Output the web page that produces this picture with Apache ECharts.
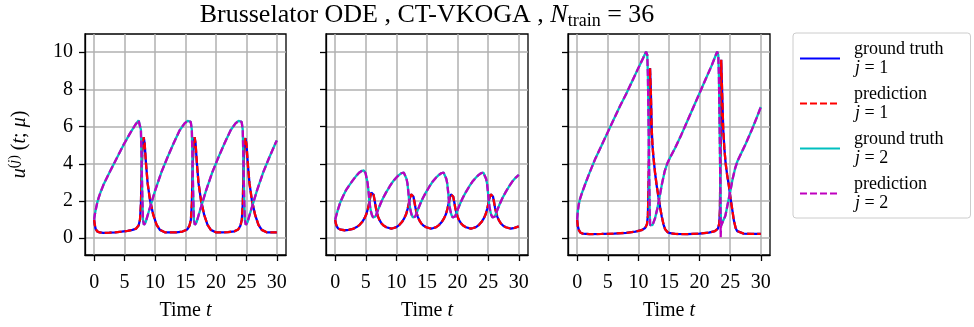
<!DOCTYPE html>
<html><head><meta charset="utf-8">
<script src="https://cdn.jsdelivr.net/npm/echarts@6/dist/echarts.min.js"></script>
<style>html,body{margin:0;padding:0;background:#fff}#c{width:974px;height:327px}</style>
</head><body><div id="c"></div>
<script>
const xTicks = [0,5,10,15,20,25,30];
const yTicks = [0,2,4,6,8,10];
const legendNames = ['gt1','pred1','gt2','pred2'];
const legendLines = {gt1:['ground truth','1'], pred1:['prediction','1'], gt2:['ground truth','2'], pred2:['prediction','2']};

// Panel 1
const p1_u1 = [[0,1.0],[0.1,0.72],[0.25,0.5],[0.5,0.37],[0.9,0.31],[1.5,0.29],[2.5,0.3],[3.5,0.32],[4.5,0.35],[5.5,0.4],[6.3,0.45],[6.9,0.52],[7.3,0.68],[7.53,0.99],[7.69,1.88],[7.8,3.67],[7.96,5.1],[8.13,5.43],[8.29,5.1],[8.51,4.03],[8.78,2.96],[9.17,2.06],[9.71,1.25],[10.26,0.72],[10.8,0.45],[11.6,0.32],[12.5,0.31],[13.5,0.32],[14.5,0.36],[15.29,0.47],[15.66,0.68],[15.89,0.99],[16.05,1.88],[16.16,3.67],[16.32,5.1],[16.49,5.43],[16.65,5.1],[16.87,4.03],[17.14,2.96],[17.53,2.06],[18.07,1.25],[18.62,0.72],[19.16,0.45],[19.96,0.32],[21.0,0.31],[22.0,0.33],[23.0,0.37],[23.65,0.47],[24.02,0.68],[24.25,0.99],[24.41,1.88],[24.52,3.67],[24.68,5.1],[24.85,5.38],[25.01,5.05],[25.23,4.0],[25.5,2.96],[25.89,2.06],[26.43,1.25],[26.98,0.72],[27.52,0.45],[28.32,0.32],[29.2,0.31],[30,0.32]];
const p1_u2 = [[0,1.0],[0.1,1.25],[0.27,1.55],[0.5,1.9],[0.75,2.18],[1.05,2.47],[1.53,2.87],[2.62,3.6],[3.71,4.3],[4.8,5.0],[5.89,5.63],[6.71,6.07],[7.3,6.33],[7.5,6.25],[7.68,5.82],[7.8,4.03],[7.91,2.24],[8.02,0.99],[8.18,0.72],[8.45,0.85],[8.85,1.3],[9.35,1.85],[10.05,2.6],[11.05,3.55],[12.05,4.35],[13.05,5.1],[14.05,5.8],[14.85,6.17],[15.35,6.3],[15.66,6.33],[15.86,6.25],[16.04,5.82],[16.16,4.03],[16.27,2.24],[16.38,0.99],[16.54,0.72],[16.81,0.85],[17.21,1.3],[17.71,1.85],[18.41,2.6],[19.41,3.55],[20.41,4.35],[21.41,5.1],[22.41,5.8],[23.21,6.17],[23.71,6.3],[24.02,6.33],[24.22,6.25],[24.4,5.82],[24.52,4.03],[24.63,2.24],[24.74,0.99],[24.9,0.72],[25.17,0.85],[25.57,1.3],[26.07,1.85],[26.77,2.6],[27.77,3.55],[28.77,4.35],[29.77,5.1],[30,5.25]];

// Panel 2
const p2_u1 = [[0,1.0],[0.1,0.8],[0.27,0.63],[0.5,0.52],[0.9,0.46],[1.53,0.43],[2.2,0.45],[2.9,0.5],[3.5,0.6],[4.0,0.72],[4.4,0.87],[4.8,1.08],[5.1,1.3],[5.36,1.61],[5.55,1.9],[5.74,2.24],[5.9,2.45],[6.07,2.54],[6.28,2.33],[6.45,2.02],[6.61,1.7],[6.8,1.4],[7.0,1.16],[7.25,0.97],[7.54,0.81],[7.9,0.68],[8.36,0.59],[9.18,0.52],[9.57,0.55],[10.0,0.6],[10.5,0.72],[10.9,0.87],[11.3,1.08],[11.6,1.3],[11.86,1.61],[12.05,1.9],[12.24,2.2],[12.4,2.36],[12.57,2.42],[12.78,2.24],[12.95,1.95],[13.11,1.65],[13.3,1.37],[13.5,1.15],[13.75,0.96],[14.04,0.81],[14.4,0.68],[14.86,0.59],[15.68,0.52],[16.07,0.55],[16.5,0.6],[17.0,0.72],[17.4,0.87],[17.8,1.08],[18.1,1.3],[18.36,1.61],[18.55,1.9],[18.74,2.2],[18.9,2.36],[19.07,2.42],[19.28,2.24],[19.45,1.95],[19.61,1.65],[19.8,1.37],[20.0,1.15],[20.25,0.96],[20.54,0.81],[20.9,0.68],[21.36,0.59],[22.18,0.52],[22.57,0.55],[23.0,0.6],[23.5,0.72],[23.9,0.87],[24.3,1.08],[24.6,1.3],[24.86,1.61],[25.05,1.9],[25.24,2.2],[25.4,2.36],[25.57,2.42],[25.78,2.24],[25.95,1.95],[26.11,1.65],[26.3,1.37],[26.5,1.15],[26.75,0.96],[27.04,0.81],[27.4,0.68],[27.86,0.59],[28.68,0.52],[29.3,0.56],[30,0.64]];
const p2_u2 = [[0,1.0],[0.2,1.25],[0.44,1.52],[0.8,1.9],[1.26,2.24],[1.8,2.6],[2.35,2.87],[2.9,3.12],[3.44,3.35],[3.9,3.52],[4.26,3.6],[4.7,3.64],[4.97,3.49],[5.15,3.2],[5.3,2.96],[5.45,2.5],[5.57,2.06],[5.7,1.7],[5.85,1.43],[6.0,1.25],[6.2,1.12],[6.4,1.13],[6.6,1.17],[7.0,1.52],[7.4,1.85],[7.81,2.15],[8.3,2.45],[8.9,2.78],[9.4,3.03],[10.0,3.26],[10.4,3.39],[10.82,3.49],[11.2,3.53],[11.47,3.46],[11.65,3.2],[11.8,2.96],[11.95,2.5],[12.07,2.06],[12.2,1.7],[12.35,1.43],[12.5,1.25],[12.7,1.12],[12.9,1.13],[13.1,1.17],[13.5,1.52],[13.9,1.85],[14.31,2.15],[14.8,2.45],[15.4,2.78],[15.9,3.03],[16.5,3.26],[16.9,3.39],[17.32,3.49],[17.7,3.53],[17.97,3.46],[18.15,3.2],[18.3,2.96],[18.45,2.5],[18.57,2.06],[18.7,1.7],[18.85,1.43],[19.0,1.25],[19.2,1.12],[19.4,1.13],[19.6,1.17],[20.0,1.52],[20.4,1.85],[20.81,2.15],[21.3,2.45],[21.9,2.78],[22.4,3.03],[23.0,3.26],[23.4,3.39],[23.82,3.49],[24.2,3.53],[24.47,3.46],[24.65,3.2],[24.8,2.96],[24.95,2.5],[25.07,2.06],[25.2,1.7],[25.35,1.43],[25.5,1.25],[25.7,1.12],[25.9,1.13],[26.1,1.17],[26.5,1.52],[26.9,1.85],[27.31,2.15],[27.8,2.45],[28.4,2.78],[28.9,3.03],[29.5,3.26],[30,3.4]];

// Panel 3
const p3_u1 = [[0,1.0],[0.1,0.65],[0.27,0.45],[0.5,0.31],[0.9,0.25],[2,0.22],[4,0.23],[6,0.25],[8,0.29],[9.5,0.35],[10.5,0.43],[11.1,0.55],[11.4,0.75],[11.55,1.2],[11.65,2.5],[11.74,5.0],[11.82,7.5],[11.9,9.14],[12.01,8.15],[12.1,7.0],[12.18,5.82],[12.3,5.0],[12.45,4.39],[12.73,3.49],[13.0,2.8],[13.27,2.24],[13.55,1.65],[13.82,1.16],[14.1,0.75],[14.37,0.48],[14.75,0.33],[15.19,0.27],[16,0.23],[18,0.22],[20,0.25],[21.5,0.3],[22.5,0.38],[23.0,0.52],[23.22,0.8],[23.32,1.5],[23.4,4.0],[23.47,7.5],[23.53,9.59],[23.62,8.5],[23.7,7.62],[23.86,5.82],[24.05,4.8],[24.25,4.03],[24.5,3.4],[24.8,2.78],[25.05,2.15],[25.34,1.52],[25.6,0.95],[25.9,0.54],[26.15,0.38],[26.44,0.3],[27.2,0.25],[28.5,0.23],[30,0.23]];
const p3_u2 = [[0,1.0],[0.1,1.45],[0.25,1.8],[0.45,2.1],[0.8,2.45],[1.3,2.9],[2.0,3.5],[3.0,4.3],[4.0,5.0],[5.0,5.7],[6.0,6.4],[7.0,7.1],[8.0,7.75],[9.0,8.45],[10.0,9.15],[10.8,9.7],[11.25,10.02],[11.45,9.85],[11.55,8.8],[11.62,7.2],[11.7,5.2],[11.78,3.0],[11.85,1.4],[11.92,0.7],[12.0,0.6],[12.3,0.7],[12.7,1.05],[13.1,1.6],[13.5,2.3],[13.9,3.0],[14.3,3.6],[14.7,4.0],[15.2,4.35],[16,4.85],[17,5.55],[18,6.3],[19,7.05],[20,7.8],[21,8.55],[22,9.3],[22.6,9.8],[22.87,10.02],[23.05,9.85],[23.15,8.8],[23.22,7.2],[23.3,5.2],[23.38,3.0],[23.45,1.4],[23.52,0.7],[23.6,0.6],[23.8,0.75],[24.2,1.2],[24.6,1.85],[25.0,2.5],[25.4,3.2],[25.8,3.75],[26.2,4.15],[26.7,4.5],[27.5,5.05],[28.5,5.8],[29.3,6.45],[30,7.05]];
const p3_u2_pred = [[0,1.0],[0.1,1.45],[0.25,1.8],[0.45,2.1],[0.8,2.45],[1.3,2.9],[2.0,3.5],[3.0,4.3],[4.0,5.0],[5.0,5.7],[6.0,6.4],[7.0,7.1],[8.0,7.75],[9.0,8.45],[10.0,9.15],[10.8,9.7],[11.25,10.02],[11.45,9.85],[11.55,8.8],[11.62,7.2],[11.7,5.2],[11.78,3.0],[11.85,1.4],[11.92,0.7],[12.0,0.6],[12.3,0.7],[12.7,1.05],[13.1,1.6],[13.5,2.3],[13.9,3.0],[14.3,3.6],[14.7,4.0],[15.2,4.35],[16,4.85],[17,5.55],[18,6.3],[19,7.05],[20,7.8],[21,8.55],[22,9.3],[22.6,9.8],[22.87,10.02],[23.05,9.85],[23.15,8.8],[23.22,7.2],[23.3,5.2],[23.38,3.0],[23.44,0.05],[23.5,0.65],[23.6,0.6],[23.8,0.75],[24.2,1.2],[24.6,1.85],[25.0,2.5],[25.4,3.2],[25.8,3.75],[26.2,4.15],[26.7,4.5],[27.5,5.05],[28.5,5.8],[29.3,6.45],[30,7.05]];

const panels = [
  {u1:p1_u1, u1p:p1_u1, u2:p1_u2, u2p:p1_u2},
  {u1:p2_u1, u1p:p2_u1, u2:p2_u2, u2p:p2_u2},
  {u1:p3_u1, u1p:p3_u1, u2:p3_u2, u2p:p3_u2_pred}
];

const F = '"Liberation Serif", "Times New Roman", serif';
const grids = [
  {left:85, top:34, width:201, height:221},
  {left:326, top:34, width:202, height:221},
  {left:568, top:34, width:202, height:221}
];
const black = '#000';
const seriesStyle = {
  gt1:{color:'#0000ff', type:'solid'},
  pred1:{color:'#ff0000', type:[7,3]},
  gt2:{color:'#00bfbf', type:'solid'},
  pred2:{color:'#bf00bf', type:[7,3]}
};

const series = [];
panels.forEach((p,i)=>{
  [['gt1',p.u1],['pred1',p.u1p],['gt2',p.u2],['pred2',p.u2p]].forEach(([nm,d])=>{
    const st = seriesStyle[nm];
    series.push({
      name:nm, type:'line', xAxisIndex:i, yAxisIndex:i, data:d,
      symbol:'none', showSymbol:false, silent:true, animation:false,
      lineStyle:{color:st.color, width:2.3, type:st.type},
      itemStyle:{color:st.color}
    });
  });
});

const option = {
  animation:false,
  backgroundColor:'#fff',
  grid: grids.map(g=>Object.assign({show:true, borderColor:black, borderWidth:1.3, backgroundColor:'transparent', containLabel:false}, g)),
  xAxis: grids.map((g,i)=>({
    type:'value', gridIndex:i, min:-1.5, max:31.5,
    axisLine:{show:true, onZero:false, lineStyle:{color:black, width:1.3}},
    axisTick:{show:true, length:6, customValues:xTicks, lineStyle:{color:black, width:1.3}},
    axisLabel:{show:true, customValues:xTicks, margin:18, fontFamily:F, fontSize:20, color:black},
    splitLine:{show:true, lineStyle:{color:'#b0b0b0', width:1.5}},
    name:'{r|Time }{i|t}', nameLocation:'middle', nameGap:46,
    nameTextStyle:{rich:{r:{fontFamily:F, fontSize:20, color:black}, i:{fontFamily:F, fontSize:20, fontStyle:'italic', color:black}}}
  })),
  yAxis: grids.map((g,i)=>({
    type:'value', gridIndex:i, min:-0.9, max:10.97,
    axisLine:{show:true, onZero:false, lineStyle:{color:black, width:1.3}},
    axisTick:{show:true, length:6, customValues:yTicks, lineStyle:{color:black, width:1.3}},
    axisLabel:{show:i===0, customValues:yTicks, margin:12, fontFamily:F, fontSize:20, color:black},
    splitLine:{show:true, lineStyle:{color:'#b0b0b0', width:1.5}},
    name: i===0 ? '{i|u}{s|(}{si|j}{s|)}{r| (}{i|t}{r|; }{i|μ}{r|)}' : '',
    nameLocation:'middle', nameGap:52,
    nameTextStyle:{rich:{
      r:{fontFamily:F, fontSize:20, color:black, lineHeight:26},
      i:{fontFamily:F, fontSize:20, fontStyle:'italic', color:black, lineHeight:26},
      s:{fontFamily:F, fontSize:14, color:black, lineHeight:14, verticalAlign:'top'},
      si:{fontFamily:F, fontSize:14, fontStyle:'italic', color:black, lineHeight:14, verticalAlign:'top'}
    }}
  })),
  legend:{
    orient:'vertical', left:793, top:33,
    itemWidth:40, itemHeight:14, itemGap:8,
    padding:[7,27,6,6],
    borderColor:'#cccccc', borderWidth:1, borderRadius:3, backgroundColor:'#fff',
    selectedMode:false,
    itemStyle:{opacity:0},
    data:legendNames,
    formatter:(name)=>{ const l = legendLines[name]; return '{a|'+l[0]+'}\n{j|j}{b| = '+l[1]+'}'; },
    textStyle:{fontFamily:F, fontSize:18, color:black, rich:{
      a:{fontFamily:F, fontSize:18, lineHeight:19, color:black, padding:[0,0,0,9]},
      j:{fontFamily:F, fontSize:18, lineHeight:19, fontStyle:'italic', color:black, padding:[0,0,0,10]},
      b:{fontFamily:F, fontSize:18, lineHeight:19, color:black}
    }}
  },
  graphic:[{
    type:'text', x:427, y:15,
    style:{
      text:'{r|Brusselator ODE , CT-VKOGA , }{i|N}{s|train}{r| = 36}',
      align:'center', verticalAlign:'middle',
      rich:{
        r:{fontFamily:F, fontSize:26, color:black, lineHeight:30},
        i:{fontFamily:F, fontSize:26, fontStyle:'italic', color:black, lineHeight:30},
        s:{fontFamily:F, fontSize:18, color:black, lineHeight:14, verticalAlign:'bottom'}
      }
    }
  }],
  series: series
};
const chart = echarts.init(document.getElementById('c'), null, {renderer:'canvas'});
chart.setOption(option);
</script>
</body></html>
